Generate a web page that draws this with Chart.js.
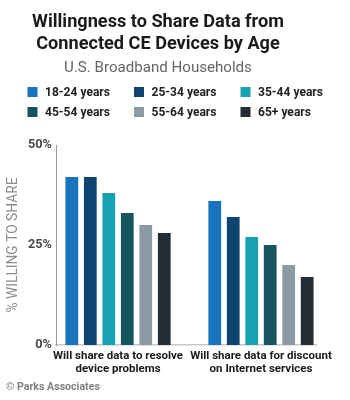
<!DOCTYPE html>
<html>
<head>
<meta charset="utf-8">
<script src="https://cdn.jsdelivr.net/npm/chart.js@4/dist/chart.umd.min.js"></script>
<style>
  html, body { margin: 0; padding: 0; background: #ffffff; }
  #wrap { width: 350px; height: 400px; }
</style>
</head>
<body>
<div id="wrap"><canvas id="c" width="350" height="400"></canvas></div>
<script>
// ---- Data ----
const categories = [
  ['Will share data to resolve', 'device problems'],
  ['Will share data for discount', 'on Internet services']
];
const ageGroups = ['18-24 years', '25-34 years', '35-44 years', '45-54 years', '55-64 years', '65+ years'];
const age18_24 = [42, 36];
const age25_34 = [42, 32];
const age35_44 = [38, 27];
const age45_54 = [33, 25];
const age55_64 = [30, 20];
const age65plus = [28, 17];
const seriesValues = [age18_24, age25_34, age35_44, age45_54, age55_64, age65plus];
const yTickValues = [0, 25, 50];
const yTickLabels = ['0%', '25%', '50%'];
const titleLines = ['Willingness to Share Data from', 'Connected CE Devices by Age'];
const subtitleText = 'U.S. Broadband Households';
const yAxisTitle = '% WILLING TO SHARE';
const footerText = '\u00A9 Parks Associates';

// ---- Styles ----
const colors = ['#1874bc', '#0d4570', '#17a1b1', '#165460', '#8b9ba6', '#242c34'];
const FAM = "Roboto, 'Liberation Sans', sans-serif";

// size a font so the given text spans the width measured on the reference
const mctx = document.createElement('canvas').getContext('2d');
function fitSize(text, weight, width) {
  mctx.font = weight + ' 100px ' + FAM;
  return 100 * width / mctx.measureText(text).width;
}
const titleSize = (fitSize(titleLines[0], 'bold', 254) + fitSize(titleLines[1], 'bold', 242)) / 2;
const subSize = fitSize(subtitleText, 'normal', 188);
const legendSize = fitSize('18-24 years', 'bold', 65);
const xTickSize = (fitSize(categories[0][0], 'bold', 131) + fitSize(categories[1][0], 'bold', 141)) / 2;
const yTickSize = fitSize('50%', 'bold', 24);
const yTitleSize = fitSize(yAxisTitle, 'normal', 135);
const footerSize = fitSize(footerText, 'bold', 94);

const datasets = ageGroups.map((label, i) => ({
  label: label,
  data: seriesValues[i].map((v, j) => ({ x: j, y: v })),
  backgroundColor: colors[i],
  borderWidth: 0,
  categoryPercentage: 0.776,
  barPercentage: 0.69
}));

const legendAndFooter = {
  id: 'legendAndFooter',
  afterDraw(chart) {
    const ctx = chart.ctx;
    ctx.save();
    ctx.textBaseline = 'middle';
    ctx.textAlign = 'left';
    ctx.font = 'bold ' + legendSize + 'px ' + FAM;
    chart.data.datasets.forEach((ds, i) => {
      const col = i % 3, row = Math.floor(i / 3);
      const bx = 27.5 + col * 106.5;
      const cy = 92 + row * 20;
      ctx.fillStyle = ds.backgroundColor;
      ctx.fillRect(bx, cy - 5, 10, 10);
      ctx.fillStyle = '#222222';
      ctx.fillText(ds.label, bx + 17.5, cy + 0.5);
    });
    ctx.font = 'bold ' + footerSize + 'px ' + FAM;
    ctx.fillStyle = '#808080';
    ctx.fillText(footerText, 6, 387);
    ctx.restore();
  }
};

new Chart(document.getElementById('c'), {
  type: 'bar',
  data: { datasets: datasets },
  options: {
    responsive: false,
    animation: false,
    devicePixelRatio: 1,
    layout: { padding: { left: 0, right: 34, top: 0, bottom: 23 } },
    plugins: {
      legend: { display: false },
      tooltip: { enabled: false },
      title: {
        display: true,
        text: titleLines,
        color: '#1a1a1a',
        font: { family: FAM, size: titleSize, weight: 'bold', lineHeight: '22px' },
        padding: { top: 11, bottom: 2 }
      },
      subtitle: {
        display: true,
        text: subtitleText,
        color: '#666666',
        font: { family: FAM, size: subSize, weight: 'normal', lineHeight: '17.5px' },
        padding: { top: 2.25, bottom: 68.25 }
      }
    },
    scales: {
      x: {
        type: 'linear',
        offset: false,
        min: -0.434,
        max: 1.385,
        afterBuildTicks(scale) { scale.ticks = [{ value: 0 }, { value: 1 }]; },
        afterFit(scale) { scale.height = 32; },
        grid: { display: false, drawTicks: false, offset: false },
        border: { display: true, color: '#c8c8c8', width: 1.5 },
        ticks: {
          autoSkip: false,
          maxRotation: 0,
          minRotation: 0,
          padding: 5,
          color: '#1a1a1a',
          font: { family: FAM, size: xTickSize, weight: 'bold', lineHeight: '13px' },
          callback: (v) => categories[v]
        }
      },
      y: {
        min: 0,
        max: 50,
        afterBuildTicks(scale) { scale.ticks = yTickValues.map(v => ({ value: v })); },
        afterFit(scale) { scale.width = 56; },
        grid: { display: false, drawTicks: false },
        border: { display: true, color: '#9a9a9a', width: 1, dash: [1, 2] },
        ticks: {
          padding: 4,
          color: '#4a4a4a',
          font: { family: FAM, size: yTickSize, weight: 'bold' },
          callback: (v) => yTickLabels[yTickValues.indexOf(v)]
        },
        title: {
          display: true,
          text: yAxisTitle,
          color: '#8c8c8c',
          font: { family: FAM, size: yTitleSize, weight: 'normal', lineHeight: '13px' },
          padding: { top: 7.5, bottom: 0 }
        }
      }
    }
  },
  plugins: [legendAndFooter]
});
</script>
</body>
</html>
